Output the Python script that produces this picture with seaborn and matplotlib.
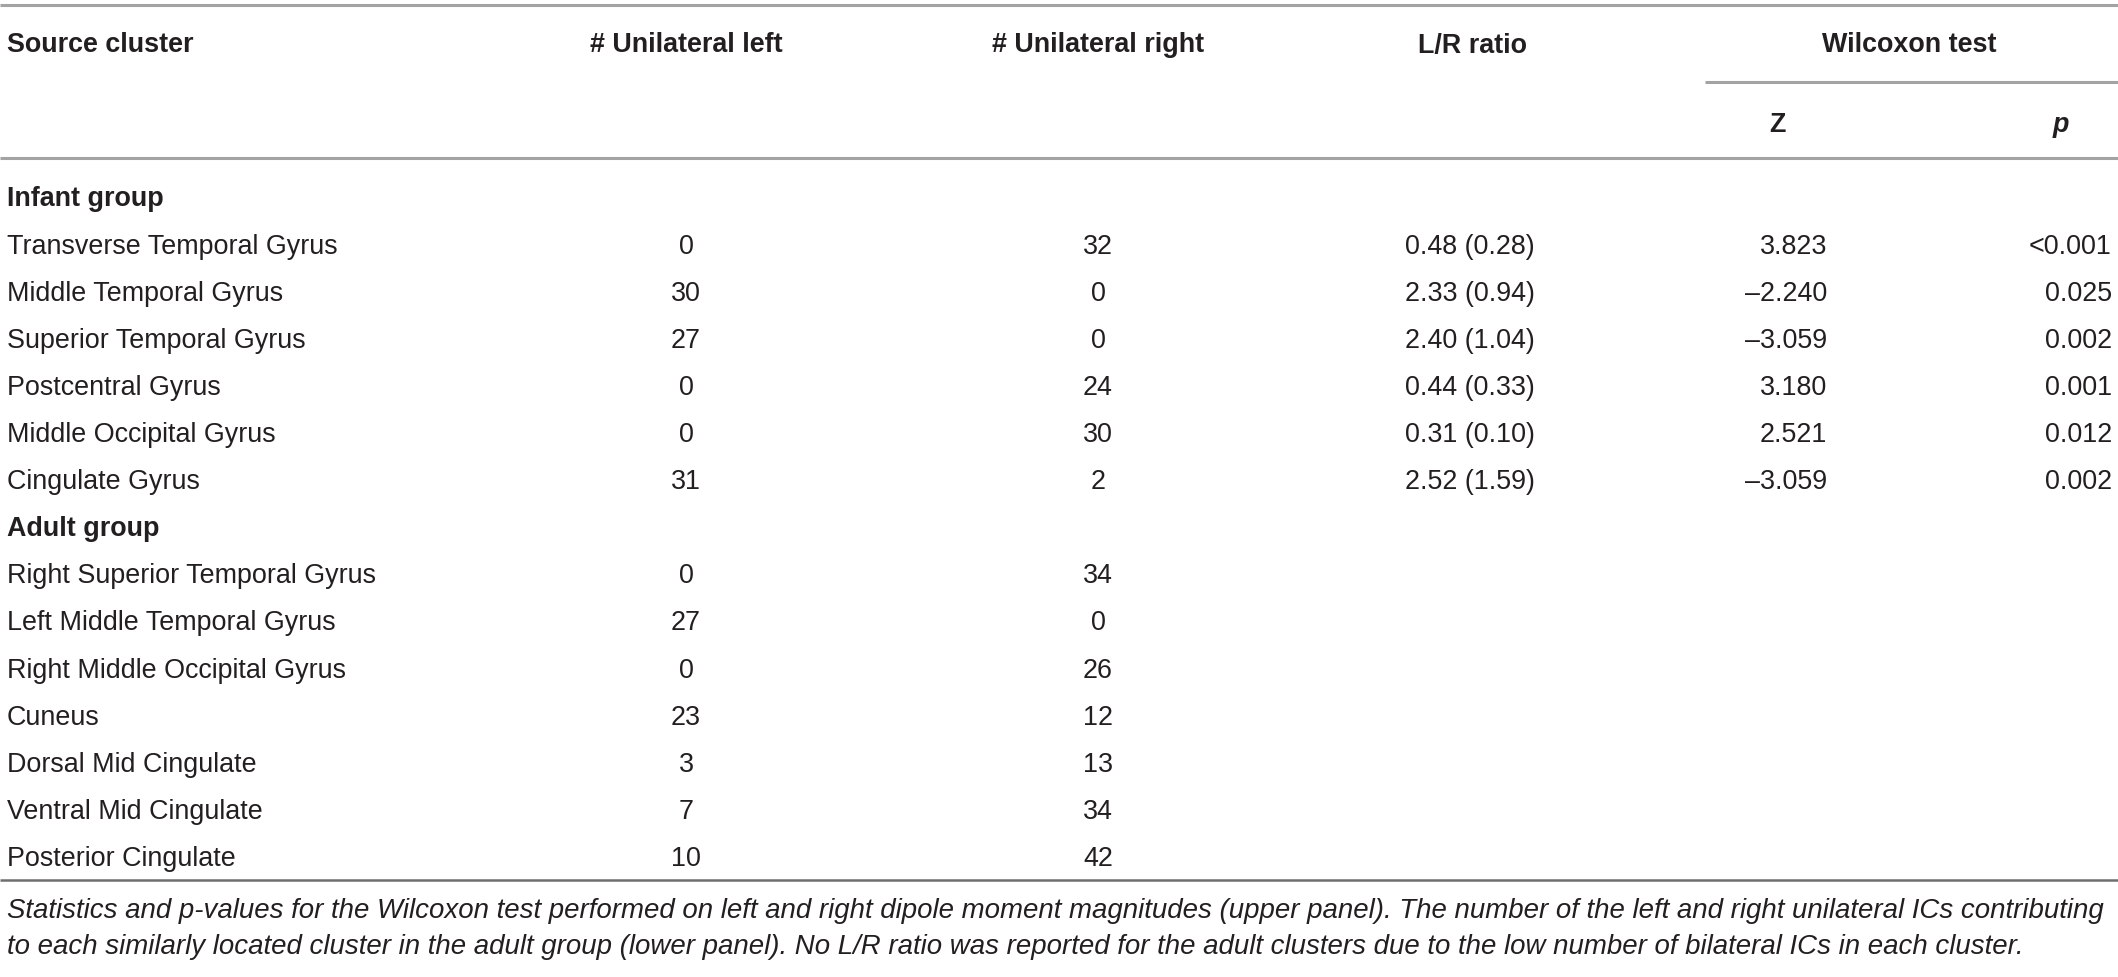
import matplotlib
matplotlib.use("Agg")
import matplotlib.pyplot as plt
import seaborn as sns

# ---------------- data ----------------
header_cols = ["Source cluster", "# Unilateral left", "# Unilateral right", "L/R ratio", "Wilcoxon test"]
sub_cols = ["Z", "p"]

group_labels = ["Infant group", "Adult group"]

infant_clusters = ["Transverse Temporal Gyrus", "Middle Temporal Gyrus", "Superior Temporal Gyrus",
                   "Postcentral Gyrus", "Middle Occipital Gyrus", "Cingulate Gyrus"]
infant_left = [0, 30, 27, 0, 0, 31]
infant_right = [32, 0, 0, 24, 30, 2]
infant_lr_mean = [0.48, 2.33, 2.40, 0.44, 0.31, 2.52]
infant_lr_sd = [0.28, 0.94, 1.04, 0.33, 0.10, 1.59]
infant_z = [3.823, -2.240, -3.059, 3.180, 2.521, -3.059]
infant_p = ["<0.001", "0.025", "0.002", "0.001", "0.012", "0.002"]

adult_clusters = ["Right Superior Temporal Gyrus", "Left Middle Temporal Gyrus", "Right Middle Occipital Gyrus",
                  "Cuneus", "Dorsal Mid Cingulate", "Ventral Mid Cingulate", "Posterior Cingulate"]
adult_left = [0, 27, 0, 23, 3, 7, 10]
adult_right = [34, 0, 26, 12, 13, 34, 42]

footnote = ["Statistics and p-values for the Wilcoxon test performed on left and right dipole moment magnitudes (upper panel). The number of the left and right unilateral ICs contributing",
            "to each similarly located cluster in the adult group (lower panel). No L/R ratio was reported for the adult clusters due to the low number of bilateral ICs in each cluster."]

# ---------------- style ----------------
sns.set_theme(style="white")
plt.rcParams["font.family"] = ["Liberation Sans", "DejaVu Sans"]

W, H = 2118, 978
fig = plt.figure(figsize=(W / 100, H / 100), dpi=100)
ax = fig.add_axes([0, 0, 1, 1])
ax.set_xlim(0, W)
ax.set_ylim(H, 0)
ax.axis("off")
sns.despine(ax=ax, left=True, bottom=True)

FS = 19.4
TXT = "#231f20"
LINE = "#a3a3a3"

# column anchors
x_name = 7
x_left = 686
x_right = 1098
x_lr = 1405
x_lr_head = 1472
x_z = 1827
x_z_head = 1777
x_p = 2112
x_p_head = 2061
x_wil = 1909

def txt(x, y, s, ha="left", weight="normal", style="normal", size=FS):
    ax.text(x, y + 9.5, s, ha=ha, va="baseline", fontsize=size, color=TXT,
            fontweight=weight, fontstyle=style)

def fmt_z(v):
    return ("\u2013" if v < 0 else "") + f"{abs(v):.3f}"

# rules
ax.hlines(6, 0, W, color=LINE, lw=2.2)
ax.hlines(83, 1705, W, color=LINE, lw=2.2)
ax.hlines(159, 0, W, color=LINE, lw=2.2)
ax.hlines(881, 0, W, color="#6e6e6e", lw=1.8)

# header
hy = 43
txt(x_name, hy, header_cols[0], weight="bold")
txt(x_left, hy, header_cols[1], ha="center", weight="bold")
txt(x_right, hy, header_cols[2], ha="center", weight="bold")
txt(x_lr_head, hy, header_cols[3], ha="center", weight="bold")
txt(x_wil, hy, header_cols[4], ha="center", weight="bold")
txt(x_z_head, 123, sub_cols[0], ha="center", weight="bold")
txt(x_p_head, 123, sub_cols[1], ha="center", weight="bold", style="italic")

# body
y0, dy = 197, 47.1
row = 0
txt(x_name, y0 + dy * row, group_labels[0], weight="bold")
row += 1
for i, name in enumerate(infant_clusters):
    y = y0 + dy * row
    txt(x_name, y, name)
    txt(x_left, y, str(infant_left[i]), ha="center")
    txt(x_right, y, str(infant_right[i]), ha="center")
    txt(x_lr, y, f"{infant_lr_mean[i]:.2f} ({infant_lr_sd[i]:.2f})")
    txt(x_z, y, fmt_z(infant_z[i]), ha="right")
    txt(x_p, y, infant_p[i], ha="right")
    row += 1
txt(x_name, y0 + dy * row, group_labels[1], weight="bold")
row += 1
for i, name in enumerate(adult_clusters):
    y = y0 + dy * row
    txt(x_name, y, name)
    txt(x_left, y, str(adult_left[i]), ha="center")
    txt(x_right, y, str(adult_right[i]), ha="center")
    row += 1

# footnote
txt(x_name, 908, footnote[0], style="italic", size=FS * 1.025)
txt(x_name, 945, footnote[1], style="italic", size=FS * 1.025)

fig.savefig("out.png", dpi=100, facecolor="white")
